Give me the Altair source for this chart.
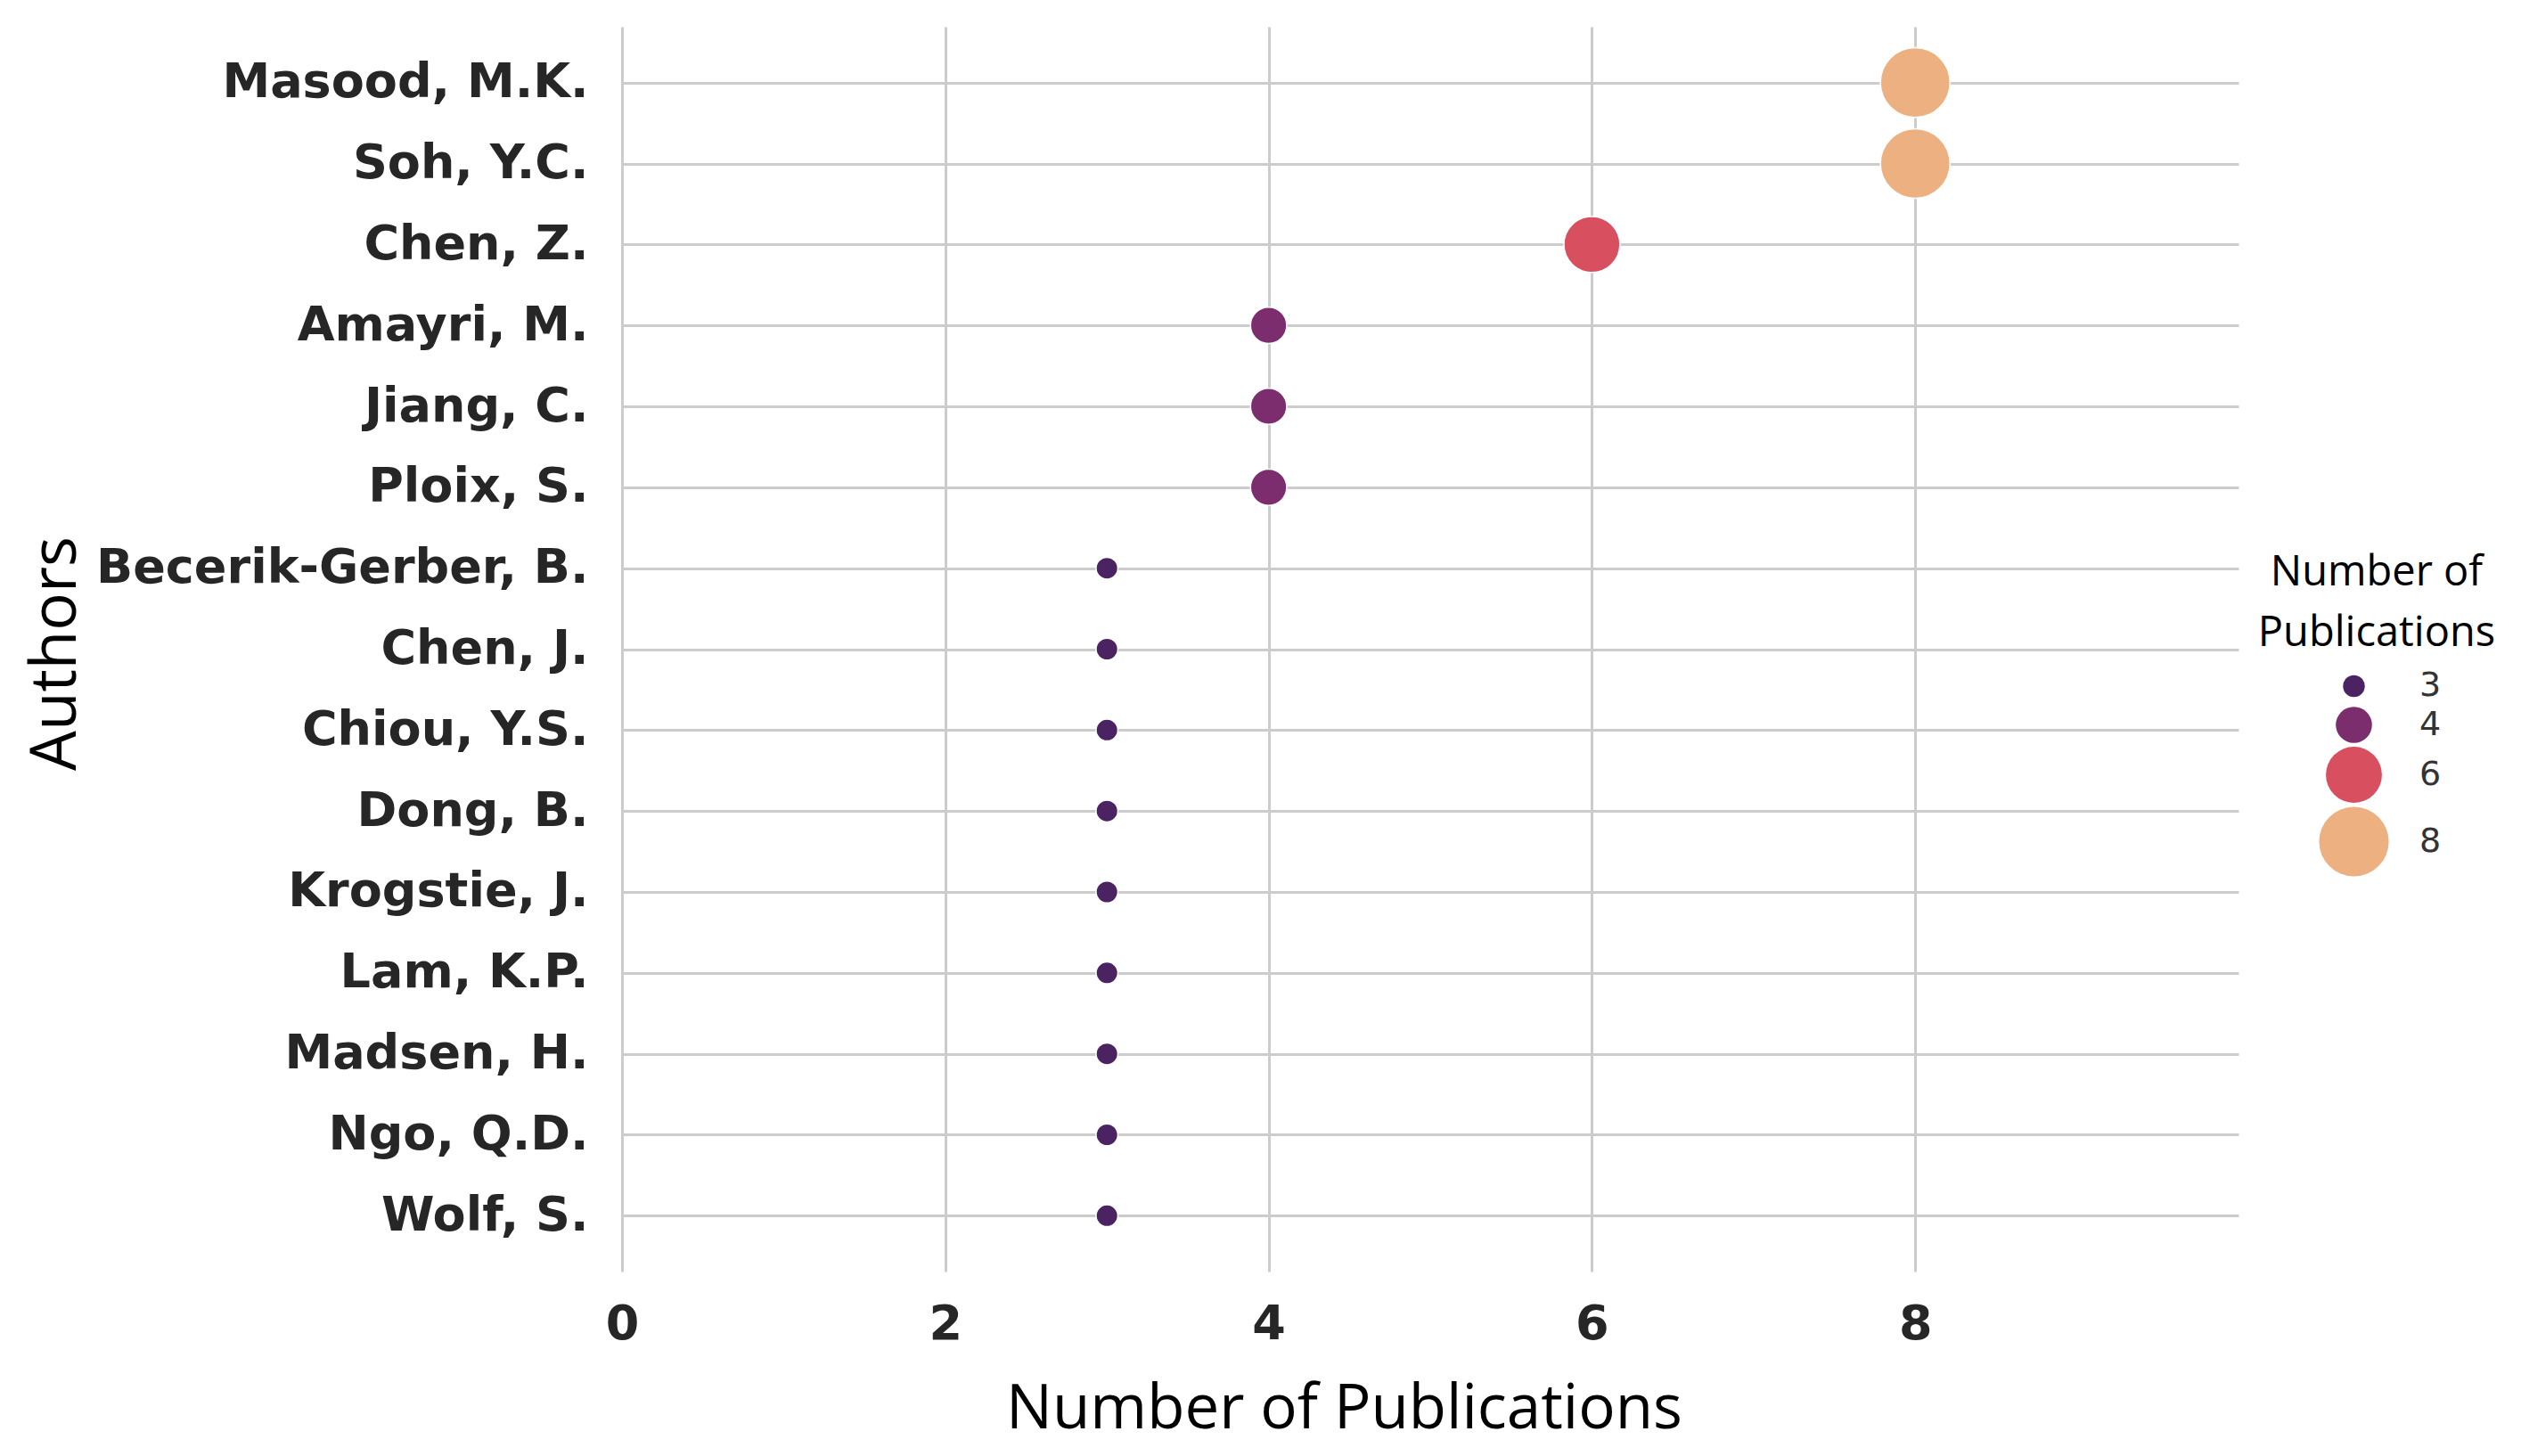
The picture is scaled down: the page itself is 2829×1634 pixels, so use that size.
import altair as alt
import pandas as pd

authors = ["Masood, M.K.", "Soh, Y.C.", "Chen, Z.", "Amayri, M.", "Jiang, C.",
           "Ploix, S.", "Becerik-Gerber, B.", "Chen, J.", "Chiou, Y.S.", "Dong, B.",
           "Krogstie, J.", "Lam, K.P.", "Madsen, H.", "Ngo, Q.D.", "Wolf, S."]
publications = [8, 8, 6, 4, 4, 4, 3, 3, 3, 3, 3, 3, 3, 3, 3]
x_ticks = [0, 2, 4, 6, 8]
legend_values = [3, 4, 6, 8]
legend_colors = ["#4b2362", "#7b2d6d", "#d84f5f", "#edb081"]
legend_sizes = [600, 1650, 3950, 6100]

df = pd.DataFrame({"Author": authors, "Pubs": publications})

PLOT_W, PLOT_H = 1814, 1397

legend = alt.Legend(
    title=["Number of", "Publications"], values=legend_values, type="symbol",
    orient="none", legendX=1836, legendY=590, padding=0,
    titleFont="Open Sans", titleFontSize=47, titleFontWeight="normal", titleColor="#000000",
    titleAnchor="middle", titleAlign="center", titleLineHeight=68, titlePadding=16,
    titleLimit=0, labelLimit=0,
    labelFont="DejaVu Sans", labelFontSize=38, labelColor="#333333",
    labelOffset=34, symbolOffset=7, rowPadding=4, symbolStrokeWidth=0,
    symbolOpacity=1,
)

chart = alt.Chart(df).mark_circle(opacity=1, stroke="white", strokeWidth=1.5).encode(
    x=alt.X("Pubs:Q",
            scale=alt.Scale(domain=[0, 10], nice=False, zero=True),
            axis=alt.Axis(values=x_ticks, title="Number of Publications", format="d",
                          domain=False, ticks=False, grid=True, labelFlush=False,
                          labelFont="DejaVu Sans", labelFontSize=54, labelFontWeight="bold",
                          labelColor="#262626", labelPadding=32,
                          titleFont="Open Sans", titleFontSize=69, titleFontWeight="normal",
                          titleColor="#000000", titleX=810, titleY=175,
                          titleAlign="center", titleBaseline="alphabetic")),
    y=alt.Y("Author:N", sort=authors,
            scale=alt.Scale(padding=0.69),
            axis=alt.Axis(title="Authors", domain=False, ticks=False, grid=True,
                          labelFont="DejaVu Sans", labelFontSize=54, labelFontWeight="bold",
                          labelColor="#262626", labelPadding=38, labelLimit=0,
                          titleFont="Open Sans", titleFontSize=71, titleFontWeight="normal",
                          titleColor="#000000", titleX=-614, titleY=703, titleAngle=270,
                          titleAlign="center", titleBaseline="alphabetic")),
    size=alt.Size("Pubs:Q", scale=alt.Scale(domain=legend_values, range=legend_sizes, zero=False),
                  legend=legend),
    color=alt.Color("Pubs:Q", scale=alt.Scale(domain=legend_values, range=legend_colors),
                    legend=legend),
).properties(
    width=PLOT_W, height=PLOT_H,
    background="white",
    autosize=alt.AutoSizeParams(type="none"),
    padding={"left": 690, "top": 22, "right": 305, "bottom": 200},
).configure_axis(
    gridColor="#cccccc", gridWidth=3,
).configure_view(stroke=None)

chart.save("out.html", embed_options={"renderer": "svg", "actions": False})
